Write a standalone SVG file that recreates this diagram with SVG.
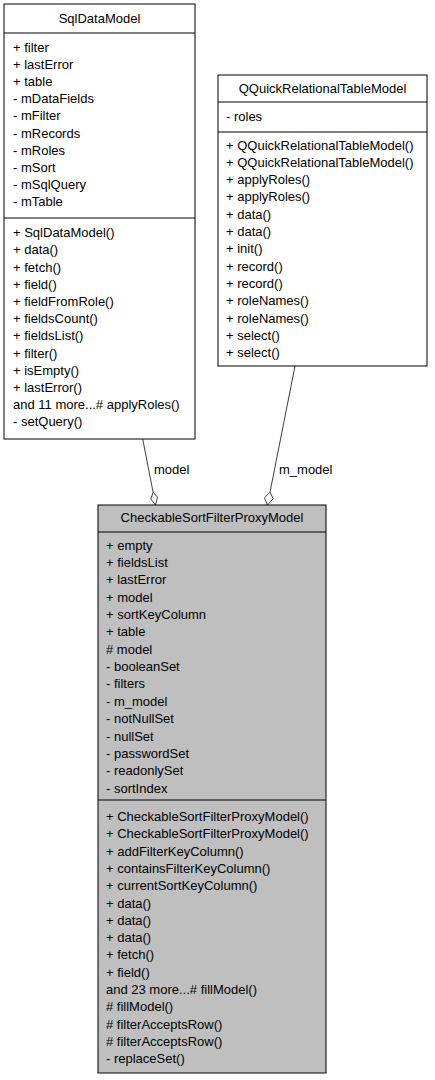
<svg xmlns="http://www.w3.org/2000/svg" width="435" height="1080" viewBox="0 0 435 1080">
<style>
text{font-family:"Liberation Sans",Arial,Helvetica,sans-serif;font-size:13px;fill:#000}
.t{text-anchor:middle}
.box{fill:#fff;stroke:#000;stroke-width:1}
.hl{fill:#bfbfbf;stroke:#000;stroke-width:1}
.sep{stroke:#000;stroke-width:1}
.edge{fill:none;stroke:#404040;stroke-width:1}
.dia{fill:#fff;stroke:#404040;stroke-width:1}
</style>
<rect width="435" height="1080" fill="#fff"/>
<g id="connectors">
<line class="edge" x1="142.7" y1="439" x2="153.1" y2="492.2"/>
<polygon class="dia" points="155.5,505 157.5,497.2 153.1,492.2 150.9,499"/>
<text x="154" y="474">model</text>
<line class="edge" x1="295" y1="366" x2="270" y2="492.2"/>
<polygon class="dia" points="267.5,505 273.2,498.6 270,492.2 264.4,497.8"/>
<text x="279" y="474">m_model</text>
</g>
<g id="SqlDataModel">
<rect class="box" x="4" y="4" width="191" height="435"/>
<line class="sep" x1="4" y1="33" x2="195" y2="33"/>
<line class="sep" x1="4" y1="218" x2="195" y2="218"/>
<text class="t" x="99.5" y="23">SqlDataModel</text>
<text><tspan x="13" y="51.5">+ filter</tspan><tspan x="13" y="68.7">+ lastError</tspan><tspan x="13" y="85.9">+ table</tspan><tspan x="13" y="103.1">- mDataFields</tspan><tspan x="13" y="120.3">- mFilter</tspan><tspan x="13" y="137.5">- mRecords</tspan><tspan x="13" y="154.7">- mRoles</tspan><tspan x="13" y="171.9">- mSort</tspan><tspan x="13" y="189.1">- mSqlQuery</tspan><tspan x="13" y="206.3">- mTable</tspan></text>
<text><tspan x="13" y="237.2">+ SqlDataModel()</tspan><tspan x="13" y="254.4">+ data()</tspan><tspan x="13" y="271.6">+ fetch()</tspan><tspan x="13" y="288.8">+ field()</tspan><tspan x="13" y="306">+ fieldFromRole()</tspan><tspan x="13" y="323.2">+ fieldsCount()</tspan><tspan x="13" y="340.4">+ fieldsList()</tspan><tspan x="13" y="357.6">+ filter()</tspan><tspan x="13" y="374.8">+ isEmpty()</tspan><tspan x="13" y="392">+ lastError()</tspan><tspan x="13" y="409.2">and 11 more...# applyRoles()</tspan><tspan x="13" y="426.4">- setQuery()</tspan></text>
</g>
<g id="QQuickRelationalTableModel">
<rect class="box" x="218" y="75" width="209" height="291"/>
<line class="sep" x1="218" y1="102" x2="427" y2="102"/>
<line class="sep" x1="218" y1="132" x2="427" y2="132"/>
<text class="t" x="322.5" y="92.5">QQuickRelationalTableModel</text>
<text x="226" y="121">- roles</text>
<text><tspan x="226" y="149.5">+ QQuickRelationalTableModel()</tspan><tspan x="226" y="166.8">+ QQuickRelationalTableModel()</tspan><tspan x="226" y="184.1">+ applyRoles()</tspan><tspan x="226" y="201.4">+ applyRoles()</tspan><tspan x="226" y="218.7">+ data()</tspan><tspan x="226" y="236">+ data()</tspan><tspan x="226" y="253.3">+ init()</tspan><tspan x="226" y="270.6">+ record()</tspan><tspan x="226" y="287.9">+ record()</tspan><tspan x="226" y="305.2">+ roleNames()</tspan><tspan x="226" y="322.5">+ roleNames()</tspan><tspan x="226" y="339.8">+ select()</tspan><tspan x="226" y="357.1">+ select()</tspan></text>
</g>
<g id="CheckableSortFilterProxyModel">
<rect class="hl" x="98" y="505" width="228" height="568"/>
<line class="sep" x1="98" y1="532" x2="326" y2="532"/>
<line class="sep" x1="98" y1="800" x2="326" y2="800"/>
<text class="t" x="212" y="522">CheckableSortFilterProxyModel</text>
<text><tspan x="106" y="549.5">+ empty</tspan><tspan x="106" y="566.9">+ fieldsList</tspan><tspan x="106" y="584.2">+ lastError</tspan><tspan x="106" y="601.6">+ model</tspan><tspan x="106" y="618.9">+ sortKeyColumn</tspan><tspan x="106" y="636.3">+ table</tspan><tspan x="106" y="653.7"># model</tspan><tspan x="106" y="671">- booleanSet</tspan><tspan x="106" y="688.4">- filters</tspan><tspan x="106" y="705.7">- m_model</tspan><tspan x="106" y="723.1">- notNullSet</tspan><tspan x="106" y="740.5">- nullSet</tspan><tspan x="106" y="757.8">- passwordSet</tspan><tspan x="106" y="775.2">- readonlySet</tspan><tspan x="106" y="792.5">- sortIndex</tspan></text>
<text><tspan x="106" y="821">+ CheckableSortFilterProxyModel()</tspan><tspan x="106" y="838.3">+ CheckableSortFilterProxyModel()</tspan><tspan x="106" y="855.6">+ addFilterKeyColumn()</tspan><tspan x="106" y="872.9">+ containsFilterKeyColumn()</tspan><tspan x="106" y="890.2">+ currentSortKeyColumn()</tspan><tspan x="106" y="907.5">+ data()</tspan><tspan x="106" y="924.8">+ data()</tspan><tspan x="106" y="942.1">+ data()</tspan><tspan x="106" y="959.4">+ fetch()</tspan><tspan x="106" y="976.7">+ field()</tspan><tspan x="106" y="994">and 23 more...# fillModel()</tspan><tspan x="106" y="1011.3"># fillModel()</tspan><tspan x="106" y="1028.6"># filterAcceptsRow()</tspan><tspan x="106" y="1045.9"># filterAcceptsRow()</tspan><tspan x="106" y="1063.2">- replaceSet()</tspan></text>
</g>
</svg>
